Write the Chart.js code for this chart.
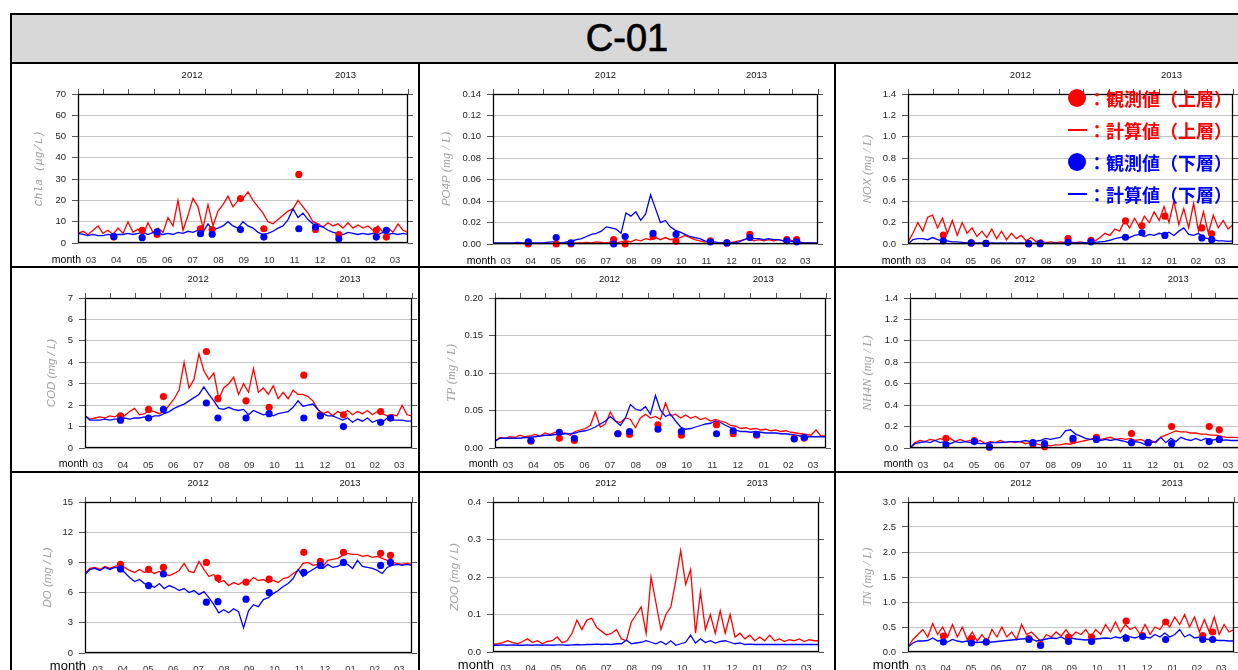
<!DOCTYPE html>
<html lang="ja">
<head>
<meta charset="UTF-8">
<title>C-01</title>
<script src="https://cdn.jsdelivr.net/npm/chart.js@4"></script>
<style>
  html, body { margin: 0; padding: 0; background: #fff; }
  body { position: relative; width: 1238px; height: 670px; overflow: hidden; font-family: "Liberation Sans", Arial, sans-serif; }
  #title { position: absolute; left: 10px; top: 13px; width: 1234px; height: 51px; box-sizing: border-box;
           border: 2px solid #000; background: #d8d8d8; text-align: center; font-size: 38px; line-height: 47px;
           -webkit-text-stroke: 0.7px #000; }
  .vline { position: absolute; top: 62px; width: 2px; height: 620px; background: #000; }
  .hline { position: absolute; left: 10px; width: 1240px; height: 2px; background: #000; }
  canvas { position: absolute; }
  #legend { position: absolute; left: 1068px; top: 82px; z-index: 5; font: bold 18px "Noto Sans CJK JP", sans-serif; white-space: nowrap; }
  #legend .row { height: 32px; display: flex; align-items: center; }
  #legend .red { color: #ff0000; }
  #legend .blue { color: #0000ff; }
  #legend .dot { width: 18px; height: 18px; border-radius: 50%; background: currentColor; margin-right: 2px; }
  #legend .dash { width: 19px; height: 2px; background: currentColor; margin-right: 1px; }
</style>
</head>
<body>
<div id="title">C-01</div>
<div id="grid"></div>
<div class="vline" style="left:10px"></div>
<div class="vline" style="left:418px"></div>
<div class="vline" style="left:834px"></div>
<div class="hline" style="top:266px"></div>
<div class="hline" style="top:471px"></div>
<div id="legend">
  <div class="row red"><span class="dot"></span><span>：観測値（上層）</span></div>
  <div class="row red"><span class="dash"></span><span>：計算値（上層）</span></div>
  <div class="row blue"><span class="dot"></span><span>：観測値（下層）</span></div>
  <div class="row blue"><span class="dash"></span><span>：計算値（下層）</span></div>
</div>
<script>
// days since 2012-03-01
const days = [0, 6, 12, 18, 24, 30, 36, 42, 48, 54, 60, 66, 72, 78, 84, 90, 96, 102, 108, 114,
  120, 126, 132, 138, 144, 150, 156, 162, 168, 174, 180, 186, 192, 198, 204, 210, 216, 222, 228, 234,
  240, 246, 252, 258, 264, 270, 276, 282, 288, 294, 300, 306, 312, 318, 324, 330, 336, 342, 348, 354,
  360, 366, 372, 378, 384, 390, 396];
const obsDays = [43, 77, 95, 147, 161, 195, 223, 265, 285, 313, 358, 370];
const monthStarts = [0, 31, 61, 92, 122, 153, 184, 214, 245, 275, 306, 337, 365, 396];
const monthLabels = ['03', '04', '05', '06', '07', '08', '09', '10', '11', '12', '01', '02', '03'];
const yearDays = [137, 321];
const yearLabels = ['2012', '2013'];

// Chla
const chlaUpper = [4.5, 5.5, 4, 6, 8, 4.5, 6, 4, 7, 4.5,
  10, 5, 6.5, 4, 9.5, 5, 7, 5, 12, 8,
  20, 6, 13, 21, 17, 7, 18, 8, 15, 18,
  22, 17, 20, 21, 24, 20, 17, 14, 10, 9,
  11, 13, 15, 16, 20, 17, 14, 10, 9, 7.5,
  9.5, 8, 9, 7, 9.5, 7, 8.5, 7, 8, 6,
  8, 5, 7, 5, 9, 6, 5];
const chlaLower = [4.5, 4, 3.5, 4, 3.5, 3.5, 4, 3.5, 4, 4,
  4.5, 4, 4.5, 5, 4, 5, 4.5, 4, 4.5, 4,
  5, 4.5, 5.5, 5, 6, 5, 9, 6, 7, 8,
  10, 8, 7, 10, 8, 7, 5, 4, 4.5, 5.5,
  7, 8, 11, 16, 12, 14, 11, 9, 8, 7.5,
  6, 5, 4.5, 4, 5, 4.5, 4, 4.5, 4, 4.5,
  4, 5, 4, 4.5, 4, 4.5, 4];
const chlaObsUpper = [2.8, 6, 4, 6.7, 6.3, 20.9, 6.7, 32.2, 6.4, 3.9, 6, 2.8];
const chlaObsLower = [3.1, 2.5, 5.2, 4.4, 4.1, 6.3, 2.8, 6.7, 7.5, 2, 2.8, 6];

// PO4P
const po4pUpper = [0, 0, 0, 0, 0, 0, 0, 0, 0.0005, 0,
  0, 0.0005, 0, 0.001, 0, 0.001, 0.0005, 0.001, 0.001, 0.0015,
  0.001, 0.002, 0.0015, 0.001, 0.002, 0.001, 0.002, 0.003, 0.002, 0.004,
  0.003, 0.005, 0.004, 0.006, 0.004, 0.006, 0.004, 0.005, 0.006, 0.008,
  0.006, 0.004, 0.003, 0.002, 0.002, 0.001, 0.001, 0.001, 0.001, 0.002,
  0.003, 0.004, 0.005, 0.003, 0.004, 0.003, 0.004, 0.003, 0.004, 0.003,
  0.004, 0.003, 0.002, 0.001, 0.001, 0.0005, 0];
const po4pLower = [0.001, 0.001, 0.001, 0.001, 0.001, 0.0015, 0.001, 0.001, 0.001, 0.001,
  0.001, 0.0015, 0.002, 0.002, 0.001, 0.002, 0.003, 0.004, 0.005, 0.007,
  0.009, 0.01, 0.012, 0.016, 0.015, 0.014, 0.01, 0.029, 0.026, 0.03,
  0.022, 0.028, 0.046, 0.033, 0.02, 0.022, 0.016, 0.013, 0.011, 0.009,
  0.007, 0.006, 0.005, 0.003, 0.002, 0.002, 0.001, 0.001, 0.001, 0.001,
  0.002, 0.004, 0.006, 0.005, 0.005, 0.004, 0.005, 0.004, 0.004, 0.003,
  0.003, 0.002, 0.002, 0.001, 0.001, 0.001, 0.001];
const po4pObsUpper = [0, 0, 0, 0.004, 0, 0.007, 0.0025, 0.003, 0.001, 0.009, 0.004, 0.004];
const po4pObsLower = [0.002, 0.006, 0.001, 0, 0.007, 0.010, 0.009, 0.002, 0.001, 0.006, 0.003, 0.002];

// NOX
const noxUpper = [0.02, 0.1, 0.2, 0.12, 0.25, 0.27, 0.15, 0.24, 0.1, 0.22,
  0.08, 0.2, 0.1, 0.15, 0.07, 0.12, 0.06, 0.14, 0.05, 0.12,
  0.04, 0.1, 0.05, 0.08, 0.03, 0.06, 0.02, 0.04, 0.01, 0.02,
  0.01, 0.02, 0.01, 0.02, 0.01, 0.02, 0.01, 0.02, 0.03, 0.06,
  0.1, 0.08, 0.14, 0.12, 0.22, 0.15, 0.24, 0.16, 0.26, 0.2,
  0.3, 0.22, 0.35, 0.2, 0.4, 0.18, 0.33, 0.15, 0.38, 0.12,
  0.3, 0.1, 0.27, 0.15, 0.22, 0.14, 0.18];
const noxLower = [0, 0.04, 0.05, 0.05, 0.04, 0.06, 0.04, 0.03, 0.03, 0.02,
  0.02, 0.015, 0.01, 0.01, 0.01, 0.01, 0.008, 0.01, 0.008, 0.01,
  0.008, 0.01, 0.008, 0.01, 0.008, 0.006, 0.008, 0.006, 0.008, 0.006,
  0.008, 0.006, 0.01, 0.008, 0.01, 0.01, 0.012, 0.012, 0.015, 0.02,
  0.025, 0.035, 0.05, 0.06, 0.07, 0.06, 0.08, 0.09, 0.07, 0.09,
  0.08, 0.1, 0.09, 0.11, 0.08, 0.12, 0.15, 0.09, 0.08, 0.1,
  0.06, 0.05, 0.04, 0.03, 0.03, 0.025, 0.03];
const noxObsUpper = [0.083, 0.01, 0.005, 0.003, 0.005, 0.05, 0.035, 0.216, 0.17, 0.26, 0.15, 0.095];
const noxObsLower = [0.03, 0.01, 0.005, 0.003, 0.003, 0.016, 0.02, 0.063, 0.105, 0.08, 0.057, 0.04];

// COD
const codUpper = [1.5, 1.35, 1.4, 1.45, 1.4, 1.5, 1.45, 1.6, 1.5, 1.7,
  1.85, 1.55, 1.6, 1.75, 1.7, 1.6, 1.7, 2.0, 2.3, 2.7,
  4.0, 2.8, 3.2, 4.4, 3.6, 3.2, 3.5, 2.3, 2.8, 3.0,
  3.3, 2.5, 3.0, 2.6, 3.7, 2.6, 2.8, 2.5, 2.9, 2.3,
  2.6, 2.3, 2.7, 2.5, 2.5, 2.4, 2.2, 1.8, 1.6, 1.7,
  1.5, 1.7, 1.6, 1.75, 1.55, 1.7, 1.6, 1.75, 1.55, 1.7,
  1.6, 1.5, 1.55, 1.5, 2.0, 1.55, 1.5];
const codLower = [1.5, 1.3, 1.3, 1.3, 1.35, 1.3, 1.35, 1.35, 1.4, 1.35,
  1.4, 1.4, 1.45, 1.4, 1.5, 1.5, 1.6, 1.7, 1.85, 1.95,
  2.05, 2.2, 2.35, 2.5, 2.85, 2.5, 2.2, 1.85, 1.8, 1.9,
  1.8, 1.75, 1.8, 1.55, 1.75, 1.65, 1.55, 1.6, 1.5, 1.6,
  1.65, 1.7, 1.9, 2.2, 1.95, 2.0, 2.05, 1.8, 1.6, 1.5,
  1.5, 1.4, 1.3, 1.4, 1.2, 1.35, 1.25, 1.4, 1.2, 1.3,
  1.2, 1.4, 1.3, 1.3, 1.3, 1.25, 1.25];
const codObsUpper = [1.5, 1.8, 2.4, 4.5, 2.3, 2.2, 1.9, 3.4, 1.55, 1.55, 1.7, 1.4];
const codObsLower = [1.3, 1.4, 1.8, 2.1, 1.4, 1.4, 1.6, 1.4, 1.5, 1.0, 1.2, 1.4];

// TP
const tpUpper = [0.009, 0.014, 0.013, 0.015, 0.014, 0.017, 0.015, 0.016, 0.018, 0.016,
  0.02, 0.018, 0.021, 0.019, 0.02, 0.017, 0.022, 0.024, 0.026, 0.03,
  0.048, 0.028, 0.032, 0.048, 0.036, 0.034, 0.04, 0.038, 0.027, 0.04,
  0.045, 0.04, 0.042, 0.038, 0.06, 0.043, 0.045, 0.04, 0.044, 0.04,
  0.042, 0.038, 0.04, 0.036, 0.038, 0.036, 0.034, 0.03, 0.029, 0.026,
  0.027, 0.025, 0.026, 0.024, 0.025, 0.023, 0.024, 0.022, 0.023, 0.021,
  0.02, 0.019, 0.018, 0.017, 0.024, 0.016, 0.016];
const tpLower = [0.009, 0.013, 0.013, 0.013, 0.013, 0.013, 0.014, 0.014, 0.015, 0.016,
  0.017, 0.017, 0.018, 0.018, 0.019, 0.019, 0.02, 0.022, 0.023, 0.025,
  0.028, 0.032, 0.036, 0.042, 0.036, 0.03, 0.04, 0.058, 0.052, 0.05,
  0.055, 0.045, 0.07, 0.05, 0.042, 0.045, 0.036, 0.028, 0.025, 0.026,
  0.028, 0.03, 0.032, 0.033, 0.036, 0.034, 0.03, 0.027, 0.024, 0.022,
  0.022, 0.021, 0.022, 0.021, 0.02, 0.02, 0.02, 0.019, 0.019, 0.018,
  0.017, 0.016, 0.015, 0.015, 0.015, 0.015, 0.015];
const tpObsUpper = [0.009, 0.013, 0.010, 0.019, 0.018, 0.031, 0.017, 0.031, 0.019, 0.017, 0.013, 0.013];
const tpObsLower = [0.010, 0.021, 0.013, 0.019, 0.022, 0.025, 0.022, 0.019, 0.023, 0.018, 0.012, 0.014];

// NH4N
const nh4nUpper = [0, 0.05, 0.07, 0.06, 0.08, 0.07, 0.09, 0.07, 0.09, 0.06,
  0.08, 0.06, 0.07, 0.05, 0.07, 0.04, 0.06, 0.05, 0.07, 0.05,
  0.06, 0.05, 0.06, 0.04, 0.05, 0.04, 0.03, 0.03, 0.02, 0.03,
  0.03, 0.04, 0.035, 0.05, 0.06, 0.07, 0.08, 0.1, 0.08, 0.09,
  0.1, 0.08, 0.09, 0.08, 0.09, 0.07, 0.08, 0.06, 0.07, 0.05,
  0.1, 0.12, 0.14, 0.16, 0.15, 0.15, 0.14, 0.14, 0.13, 0.13,
  0.12, 0.12, 0.11, 0.1, 0.1, 0.1, 0.09];
const nh4nLower = [0, 0.04, 0.05, 0.06, 0.05, 0.07, 0.05, 0.06, 0.04, 0.06,
  0.05, 0.06, 0.05, 0.05, 0.04, 0.04, 0.05, 0.05, 0.05, 0.055,
  0.06, 0.06, 0.06, 0.07, 0.06, 0.065, 0.07, 0.09, 0.08, 0.09,
  0.1, 0.16, 0.17, 0.13, 0.11, 0.09, 0.08, 0.08, 0.07, 0.08,
  0.07, 0.08, 0.07, 0.06, 0.04, 0.06, 0.05, 0.03, 0.05, 0.06,
  0.1, 0.05, 0.09, 0.06, 0.1, 0.08, 0.07, 0.09, 0.07, 0.09,
  0.07, 0.08, 0.07, 0.075, 0.07, 0.07, 0.07];
const nh4nObsUpper = [0.09, 0.07, 0.01, 0.035, 0.012, 0.07, 0.1, 0.135, 0.05, 0.2, 0.2, 0.17];
const nh4nObsLower = [0.03, 0.06, 0.01, 0.05, 0.04, 0.09, 0.08, 0.05, 0.05, 0.04, 0.06, 0.08];

// DO
const doUpper = [7.9, 8.4, 8.5, 8.3, 8.6, 8.4, 8.6, 8.7, 8.5, 8.2,
  8.0, 8.3, 8.0, 8.2, 7.9, 8.1, 7.8, 7.7, 7.9, 8.2,
  8.9, 8.1, 8.0, 9.1, 8.3, 7.6, 7.8, 7.0, 7.2, 6.7,
  7.0, 6.8, 7.1, 7.0, 7.5, 7.2, 7.3, 7.0, 7.2, 7.0,
  7.4, 7.5, 7.9, 8.2, 8.9, 9.0, 8.7, 8.8, 8.6, 9.2,
  9.3, 9.4, 9.7, 9.9, 9.8, 9.8, 9.6, 9.7, 9.5, 9.6,
  9.4, 9.2, 9.0, 8.9, 8.8, 8.9, 8.8];
const doLower = [7.8, 8.3, 8.4, 8.2, 8.5, 8.3, 8.5, 8.4, 8.0, 7.5,
  7.1, 7.3, 6.9, 6.8, 6.5, 6.9, 6.4, 6.7, 6.5, 6.2,
  6.4, 6.0, 6.2, 5.8, 6.1, 5.5, 4.8, 4.0, 4.3, 4.0,
  4.4, 4.1, 2.5, 4.2, 4.8, 4.6, 5.3, 5.5, 5.9, 6.2,
  6.6, 6.9, 7.4, 8.3, 7.6, 8.0, 8.3, 8.6, 8.4, 8.8,
  8.5, 8.6, 8.9, 8.8, 8.4, 9.2, 8.6, 8.5, 8.4, 8.2,
  7.9, 8.5, 8.7, 8.8, 8.7, 8.8, 8.7];
const doObsUpper = [8.8, 8.3, 8.5, 9.0, 7.45, 7.05, 7.35, 10.0, 9.1, 10.0, 9.9, 9.7];
const doObsLower = [8.35, 6.7, 7.85, 5.05, 5.1, 5.35, 6.0, 8.0, 8.7, 9.0, 8.7, 9.0];

// ZOO
const zooUpper = [0.02, 0.022, 0.025, 0.03, 0.025, 0.022, 0.028, 0.035, 0.025, 0.03,
  0.022, 0.028, 0.03, 0.04, 0.025, 0.03, 0.05, 0.085, 0.06, 0.085,
  0.09, 0.065, 0.055, 0.045, 0.05, 0.06, 0.035, 0.03, 0.08, 0.1,
  0.12, 0.05, 0.2, 0.13, 0.06, 0.1, 0.12, 0.19, 0.27, 0.18,
  0.22, 0.05, 0.16, 0.06, 0.1, 0.05, 0.11, 0.05, 0.1, 0.04,
  0.05, 0.035, 0.045, 0.03, 0.04, 0.03, 0.045, 0.03, 0.035, 0.028,
  0.033, 0.03, 0.035, 0.028, 0.033, 0.03, 0.03];
const zooLower = [0.018, 0.018, 0.019, 0.018, 0.019, 0.018, 0.018, 0.019, 0.018, 0.019,
  0.018, 0.019, 0.018, 0.019, 0.019, 0.018, 0.019, 0.02, 0.019, 0.02,
  0.02, 0.021, 0.02, 0.021, 0.02, 0.022, 0.022, 0.032, 0.022, 0.024,
  0.026, 0.03, 0.026, 0.022, 0.028, 0.02, 0.03, 0.018, 0.022, 0.026,
  0.045, 0.024, 0.035, 0.025, 0.03, 0.024, 0.028, 0.03, 0.026, 0.022,
  0.024, 0.02, 0.021, 0.02, 0.02, 0.02, 0.02, 0.02, 0.02, 0.02,
  0.02, 0.02, 0.02, 0.02, 0.02, 0.02, 0.02];

// TN
const tnUpper = [0.1, 0.25, 0.35, 0.45, 0.3, 0.57, 0.35, 0.5, 0.3, 0.55,
  0.3, 0.5, 0.25, 0.4, 0.22, 0.35, 0.2, 0.45, 0.3, 0.5,
  0.3, 0.4, 0.25, 0.55, 0.35, 0.4, 0.3, 0.2, 0.35, 0.3,
  0.4, 0.32, 0.45, 0.3, 0.4, 0.35, 0.45, 0.3, 0.45, 0.35,
  0.55, 0.4, 0.6, 0.4, 0.55, 0.45, 0.5, 0.35, 0.55, 0.35,
  0.5, 0.45, 0.6, 0.5, 0.7, 0.55, 0.75, 0.5, 0.7, 0.4,
  0.65, 0.4, 0.7, 0.35, 0.55, 0.4, 0.45];
const tnLower = [0.1, 0.18, 0.22, 0.22, 0.23, 0.28, 0.22, 0.24, 0.2, 0.25,
  0.22, 0.2, 0.22, 0.2, 0.19, 0.2, 0.19, 0.2, 0.21, 0.22,
  0.23, 0.24, 0.25, 0.26, 0.27, 0.26, 0.22, 0.24, 0.26, 0.28,
  0.27, 0.3, 0.25, 0.28, 0.26, 0.25, 0.24, 0.25, 0.26, 0.27,
  0.28, 0.27, 0.3, 0.28, 0.35, 0.3, 0.28, 0.32, 0.3, 0.28,
  0.35, 0.3, 0.38, 0.3, 0.35, 0.45, 0.3, 0.35, 0.28, 0.3,
  0.26, 0.25, 0.24, 0.23, 0.23, 0.22, 0.22];
const tnObsUpper = [0.32, 0.27, 0.2, 0.27, 0.15, 0.3, 0.3, 0.62, 0.33, 0.6, 0.33, 0.4];
const tnObsLower = [0.2, 0.18, 0.2, 0.25, 0.13, 0.21, 0.21, 0.27, 0.31, 0.25, 0.25, 0.25];

// layout
const cols = [{ x: 12, w: 406 }, { x: 420, w: 414 }, { x: 836, w: 420 }];
const rows = [
  { y: 64, h: 202, labelPad: 11.5, monthFont: '10.5px "Liberation Sans"', monthDy: 17, monthDx: 3 },
  { y: 268, h: 203, labelPad: 11.5, monthFont: '10.5px "Liberation Sans"', monthDy: 16, monthDx: 3 },
  { y: 473, h: 200, labelPad: 10.5, monthFont: '13px "Liberation Sans"', monthDy: 13, monthDx: 1 }
];
const SANS_I = 'italic 11.5px "Liberation Sans"';
const SERIF_I = 'italic 12.5px "Liberation Serif"';
const MONO_I = 'italic 11.5px "Liberation Mono"';

const panels = [
  { col: 0, row: 0, plot: [78, 94, 408, 243], max: 70, step: 10, dec: 0, name: 'Chla', unit: '(μg/L)', nf: MONO_I, uf: MONO_I, toff: 39,
    upper: chlaUpper, lower: chlaLower, obsUpper: chlaObsUpper, obsLower: chlaObsLower },
  { col: 1, row: 0, plot: [493, 94, 818, 244], max: 0.14, step: 0.02, dec: 2, name: 'PO4P', unit: '(mg / L)', nf: SANS_I, uf: SERIF_I, toff: 46,
    upper: po4pUpper, lower: po4pLower, obsUpper: po4pObsUpper, obsLower: po4pObsLower },
  { col: 2, row: 0, plot: [908, 94, 1233, 244], max: 1.4, step: 0.2, dec: 1, name: 'NOX', unit: '(mg / L)', nf: SANS_I, uf: SERIF_I, toff: 40,
    upper: noxUpper, lower: noxLower, obsUpper: noxObsUpper, obsLower: noxObsLower },
  { col: 0, row: 1, plot: [85, 298, 412, 448], max: 7, step: 1, dec: 0, name: 'COD', unit: '(mg / L)', nf: SANS_I, uf: SANS_I, toff: 33,
    upper: codUpper, lower: codLower, obsUpper: codObsUpper, obsLower: codObsLower },
  { col: 1, row: 1, plot: [495, 298, 826, 448], max: 0.2, step: 0.05, dec: 2, name: 'TP', unit: '(mg / L)', nf: SERIF_I, uf: SERIF_I, toff: 43,
    upper: tpUpper, lower: tpLower, obsUpper: tpObsUpper, obsLower: tpObsLower },
  { col: 2, row: 1, plot: [910, 298, 1241, 448], max: 1.4, step: 0.2, dec: 1, name: 'NH4N', unit: '(mg / L)', nf: SERIF_I, uf: SERIF_I, toff: 42,
    upper: nh4nUpper, lower: nh4nLower, obsUpper: nh4nObsUpper, obsLower: nh4nObsLower },
  { col: 0, row: 2, plot: [85, 502, 412, 653], max: 15, step: 3, dec: 0, name: 'DO', unit: '(mg / L)', nf: SANS_I, uf: SANS_I, toff: 37,
    upper: doUpper, lower: doLower, obsUpper: doObsUpper, obsLower: doObsLower },
  { col: 1, row: 2, plot: [493, 502, 819, 652], max: 0.4, step: 0.1, dec: 1, name: 'ZOO', unit: '(mg / L)', nf: SANS_I, uf: SANS_I, toff: 38,
    upper: zooUpper, lower: zooLower, obsUpper: [], obsLower: [] },
  { col: 2, row: 2, plot: [908, 502, 1234, 652], max: 3, step: 0.5, dec: 1, name: 'TN', unit: '(mg / L)', nf: SERIF_I, uf: SERIF_I, toff: 40,
    upper: tnUpper, lower: tnLower, obsUpper: tnObsUpper, obsLower: tnObsLower }
];

const monthMid = monthLabels.map((m, i) => (monthStarts[i] + monthStarts[i + 1]) / 2);
const TICK_FONT = { family: 'Liberation Sans', size: 9.5 };

function lineSet(vals, color, order) {
  return {
    data: vals.map((v, i) => ({ x: days[i], y: v })),
    borderColor: color, borderWidth: 1.3, pointRadius: 0, fill: false, tension: 0, order: order
  };
}

function dotSet(vals, color, order) {
  return {
    data: vals.map((v, i) => ({ x: obsDays[i], y: v })),
    showLine: false, pointRadius: 3.6, pointBorderWidth: 0,
    borderColor: color, backgroundColor: color, pointBackgroundColor: color,
    order: order, clip: false
  };
}

function makePanel(p) {
  const col = cols[p.col], row = rows[p.row];
  const canvas = document.createElement('canvas');
  canvas.width = col.w;
  canvas.height = row.h;
  canvas.style.left = col.x + 'px';
  canvas.style.top = row.y + 'px';
  document.getElementById('grid').appendChild(canvas);

  // space around the plot area, taken up by the four axes
  const padLeft = p.plot[0] - col.x;
  const padTop = p.plot[1] - row.y;
  const padRight = col.x + col.w - p.plot[2];
  const padBottom = row.y + row.h - p.plot[3];

  const decor = {
    id: 'decor',
    afterDatasetsDraw(chart) {
      const a = chart.chartArea, ctx = chart.ctx;
      ctx.save();
      ctx.strokeStyle = '#000';
      ctx.lineWidth = 1.3;
      ctx.strokeRect(a.left + 0.5, a.top + 0.5, a.right - a.left - 1, a.bottom - a.top - 1);
      ctx.restore();
    },
    afterDraw(chart) {
      const a = chart.chartArea, ctx = chart.ctx;
      ctx.save();
      // year labels
      ctx.font = '9.5px "Liberation Sans"';
      ctx.fillStyle = '#111';
      ctx.textAlign = 'center';
      ctx.textBaseline = 'middle';
      yearLabels.forEach((t, i) => ctx.fillText(t, chart.scales.x.getPixelForValue(yearDays[i]), a.top - 19));
      // month caption
      ctx.font = row.monthFont;
      ctx.fillStyle = '#000';
      ctx.textAlign = 'right';
      ctx.fillText('month', a.left + row.monthDx, a.bottom + row.monthDy);
      // y title
      ctx.translate(a.left - p.toff, (a.top + a.bottom) / 2);
      ctx.rotate(-Math.PI / 2);
      ctx.fillStyle = '#a0a0a0';
      ctx.textAlign = 'left';
      ctx.font = p.nf;
      const wn = ctx.measureText(p.name + ' ').width;
      ctx.font = p.uf;
      const wu = ctx.measureText(p.unit).width;
      const x0 = -(wn + wu) / 2;
      ctx.font = p.nf;
      ctx.fillText(p.name + ' ', x0, 0);
      ctx.font = p.uf;
      ctx.fillText(p.unit, x0 + wn, 0);
      ctx.restore();
    }
  };

  const datasets = [
    dotSet(p.obsLower, '#0000ff', 0),
    dotSet(p.obsUpper, '#ff0000', 1),
    lineSet(p.lower, '#0000ff', 2),
    lineSet(p.upper, '#ff0000', 3)
  ];

  new Chart(canvas, {
    type: 'line',
    data: { datasets: datasets },
    options: {
      responsive: false,
      animation: false,
      devicePixelRatio: 1,
      layout: { padding: 0 },
      plugins: { legend: { display: false }, tooltip: { enabled: false } },
      scales: {
        x: {
          type: 'linear', position: 'bottom', min: 0, max: 396,
          afterBuildTicks: s => { s.ticks = monthMid.map(v => ({ value: v })); },
          afterFit: s => { s.height = padBottom; },
          ticks: {
            autoSkip: false, maxRotation: 0, font: TICK_FONT, color: '#333', padding: row.labelPad,
            callback: (v, i) => monthLabels[i]
          },
          grid: { display: false, drawTicks: false },
          border: { display: false }
        },
        xTop: {
          type: 'linear', position: 'top', min: 0, max: 396,
          afterBuildTicks: s => { s.ticks = monthStarts.map(v => ({ value: v })); },
          afterFit: s => { s.height = padTop; },
          ticks: { display: false },
          grid: { drawOnChartArea: false, drawTicks: true, tickLength: 5, tickColor: '#555' },
          border: { display: false }
        },
        y: {
          type: 'linear', position: 'left', min: 0, max: p.max,
          afterFit: s => { s.width = padLeft; },
          ticks: {
            stepSize: p.step, font: TICK_FONT, color: '#222', padding: 6,
            callback: v => Number(v).toFixed(p.dec)
          },
          grid: { color: '#c4c4c4', lineWidth: 1, tickLength: 6, tickColor: '#555' },
          border: { display: false }
        },
        yRight: {
          type: 'linear', position: 'right', min: 0, max: p.max,
          afterFit: s => { s.width = padRight; },
          ticks: { stepSize: p.step, display: false },
          grid: { drawOnChartArea: false, tickLength: 5, tickColor: '#555' },
          border: { display: false }
        }
      }
    },
    plugins: [decor]
  });
}

panels.forEach(makePanel);
</script>
</body>
</html>
